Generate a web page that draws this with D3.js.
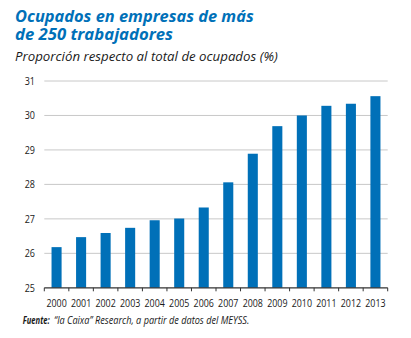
<!DOCTYPE html>
<html>
<head>
<meta charset="utf-8">
<script src="https://cdn.jsdelivr.net/npm/d3@7"></script>
<style>
  html, body { margin: 0; padding: 0; background: #ffffff; }
  svg { display: block; }
  text { font-family: "Open Sans", "Noto Sans", sans-serif; }
</style>
</head>
<body>
<svg id="chart" width="411" height="338"></svg>
<script>
const years = ["2000","2001","2002","2003","2004","2005","2006","2007","2008","2009","2010","2011","2012","2013"];
const share = [26.18, 26.47, 26.59, 26.74, 26.96, 27.01, 27.33, 28.06, 28.89, 29.69, 30.0, 30.28, 30.34, 30.56];
const yTicks = [25, 26, 27, 28, 29, 30, 31];

const titleLines = ["Ocupados en empresas de más", "de 250 trabajadores"];
const titleWidths = [239, 158];
const subtitle = "Proporción respecto al total de ocupados (%)";
const sourceLabel = "Fuente:";
const sourceText = "“la Caixa” Research, a partir de datos del MEYSS.";

const svg = d3.select("#chart");
const blue = "#0070b8";
const ink = "#1a1a1a";
const left = 44.3, right = 387.7;

const x = d3.scaleBand().domain(years).range([left, right]).paddingInner(0.59).paddingOuter(0.295);
const y = d3.scaleLinear().domain([25, 31]).range([287.8, 81]);

// condensed-looking text: narrow the glyphs horizontally to a target width
function narrowText(parent, str, px, py, w, style) {
  const g = parent.append("g");
  const t = g.append("text").text(str);
  Object.entries(style).forEach(([k, v]) => t.attr(k, v));
  const natural = t.node().getComputedTextLength();
  const anchorShift = style["text-anchor"] === "middle" ? 0 : 0;
  g.attr("transform", `translate(${px + anchorShift},${py}) scale(${w / natural},1)`);
  return t;
}

// title block
titleLines.forEach((line, i) => narrowText(svg, line, 15, 21.5 + i * 18.7, titleWidths[i],
  { fill: blue, "font-size": 16.5, "font-weight": "bold", "font-style": "italic" }));

narrowText(svg, subtitle, 15, 61, 263, { fill: ink, "font-size": 13.5, "font-style": "italic" });

// gridlines
svg.append("g").selectAll("line").data(yTicks.filter(t => t > 25)).join("line")
  .attr("x1", left).attr("x2", right)
  .attr("y1", d => y(d)).attr("y2", d => y(d))
  .attr("stroke", "#c8c8c8").attr("stroke-width", 1);

// y labels (right-aligned against the plot)
const yg = svg.append("g");
yTicks.forEach(t => narrowText(yg, d3.format("d")(t), left - 9.3 - 10.3, y(t) + 4, 10.3,
  { fill: ink, "font-size": 11.5 }));

// bars
svg.append("g").selectAll("rect").data(share).join("rect")
  .attr("x", (d, i) => x(years[i]))
  .attr("width", x.bandwidth())
  .attr("y", d => y(d))
  .attr("height", d => y(25) - y(d))
  .attr("fill", blue);

// x axis with ticks between bands
const xg = svg.append("g").attr("transform", `translate(0,${y(25)})`);
xg.append("line").attr("x1", left).attr("x2", right).attr("stroke", "#333").attr("stroke-width", 1.2);
const step = x.step();
xg.selectAll("line.tick").data(d3.range(years.length + 1)).join("line")
  .attr("class", "tick")
  .attr("x1", i => left + i * step).attr("x2", i => left + i * step)
  .attr("y1", 0).attr("y2", 3.5).attr("stroke", "#333").attr("stroke-width", 1);
years.forEach(yr => narrowText(xg, yr, x(yr) + x.bandwidth() / 2 - 10.15, 18.8, 20.3,
  { fill: ink, "font-size": 11.5 }));

// source note: bold label plus italic credit
narrowText(svg, sourceLabel, 22.7, 323.5, 27,
  { fill: ink, "font-size": 10, "font-style": "italic", "font-weight": "bold" });
narrowText(svg, sourceText, 54, 323.5, 195.3,
  { fill: ink, "font-size": 10, "font-style": "italic" });
</script>
</body>
</html>
